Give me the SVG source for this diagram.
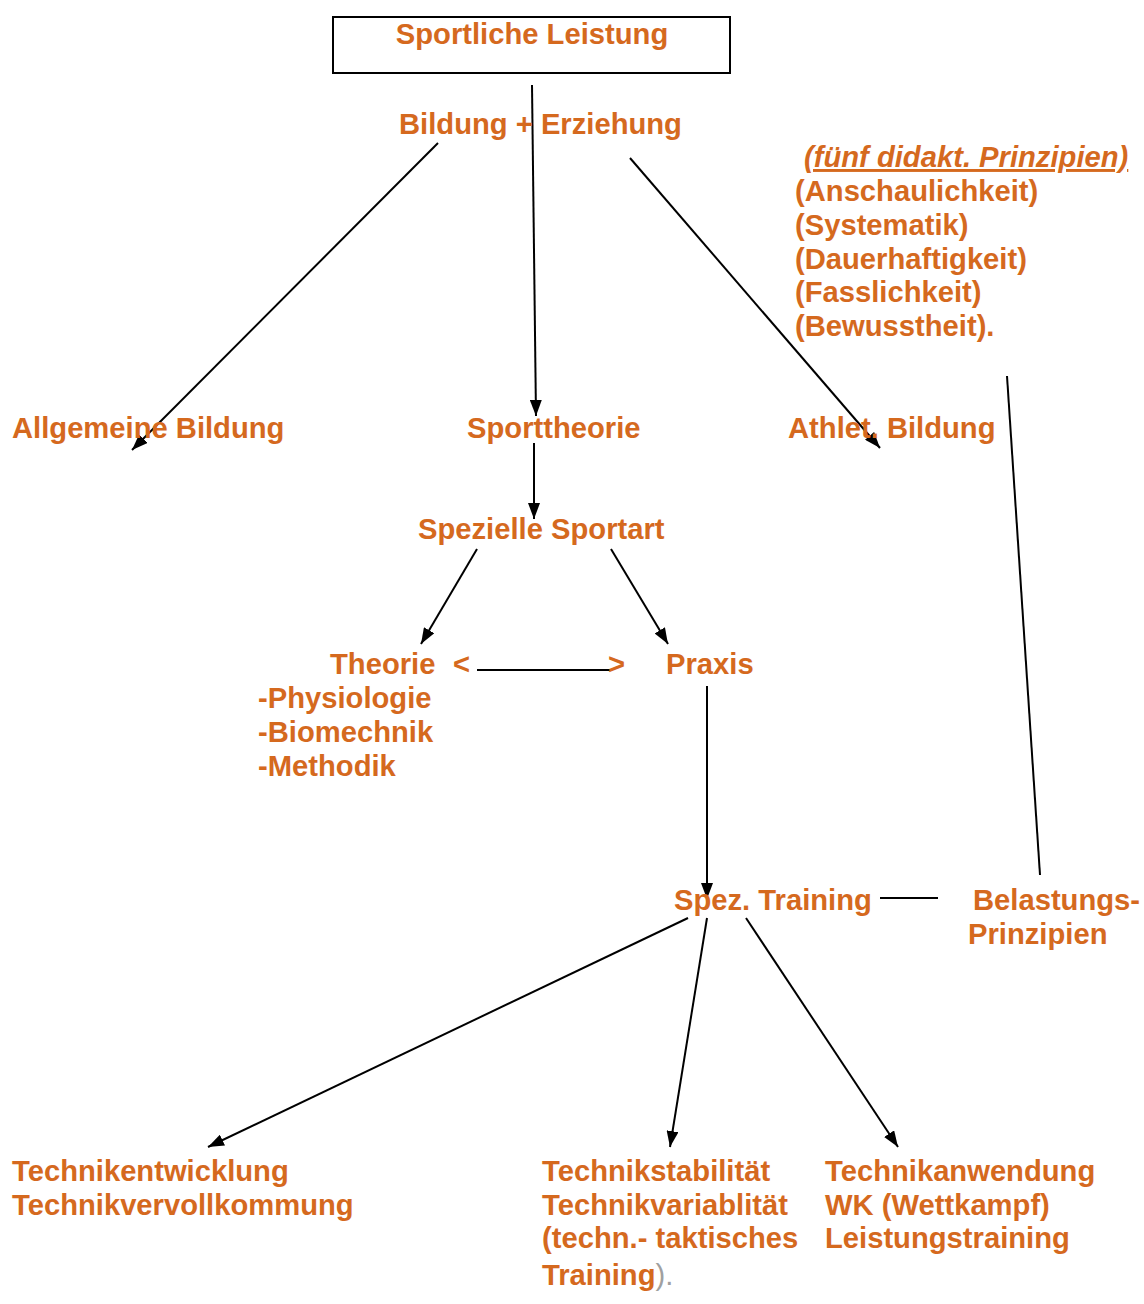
<svg xmlns="http://www.w3.org/2000/svg" width="1144" height="1304" viewBox="0 0 1144 1304">
<defs>
<style>
text{font-family:"Liberation Sans",Arial,sans-serif;font-weight:bold;font-size:29.2px;fill:#D5691E}
.gray{fill:#A0A0A0;font-weight:normal}
.ital{font-style:italic;text-decoration:underline}
.c line{stroke:#000;stroke-width:2}
</style>
<marker id="ah" viewBox="0 0 16 12" refX="16" refY="6" markerWidth="16" markerHeight="12" markerUnits="userSpaceOnUse" orient="auto">
<path d="M0,0 L16,6 L0,12 Z" fill="#000"/>
</marker>
</defs>
<rect width="1144" height="1304" fill="#fff"/>
<g class="c" id="connectors">
<line x1="532" y1="85" x2="536" y2="416" marker-end="url(#ah)"/>
<line x1="438" y1="143" x2="132" y2="450" marker-end="url(#ah)"/>
<line x1="630" y1="158" x2="880" y2="448" marker-end="url(#ah)"/>
<line x1="1007" y1="376" x2="1040" y2="875"/>
<line x1="534" y1="443" x2="534" y2="519" marker-end="url(#ah)"/>
<line x1="477" y1="549" x2="421" y2="644" marker-end="url(#ah)"/>
<line x1="611" y1="549" x2="668" y2="644" marker-end="url(#ah)"/>
<line x1="477" y1="670" x2="612" y2="670"/>
<line x1="707" y1="686" x2="707" y2="899" marker-end="url(#ah)"/>
<line x1="880" y1="898" x2="938" y2="898"/>
<line x1="688" y1="918" x2="208" y2="1147" marker-end="url(#ah)"/>
<line x1="707" y1="918" x2="670" y2="1147" marker-end="url(#ah)"/>
<line x1="746" y1="918" x2="898" y2="1147" marker-end="url(#ah)"/>
</g>
<g id="n-sportliche"><rect x="333" y="17" width="397" height="56" fill="none" stroke="#000" stroke-width="2"/><text x="532" y="44" text-anchor="middle">Sportliche Leistung</text></g>
<g id="n-bildung"><text x="399" y="134">Bildung + Erziehung</text></g>
<g id="n-prinzipien">
<text x="804" y="167" class="ital">(fünf didakt. Prinzipien)</text>
<text x="795" y="201">(Anschaulichkeit)</text>
<text x="795" y="235">(Systematik)</text>
<text x="795" y="269">(Dauerhaftigkeit)</text>
<text x="795" y="302">(Fasslichkeit)</text>
<text x="795" y="336">(Bewusstheit).</text>
</g>
<g id="n-allgemein"><text x="12" y="438">Allgemeine Bildung</text></g>
<g id="n-sporttheorie"><text x="467" y="438">Sporttheorie</text></g>
<g id="n-athlet"><text x="788" y="438">Athlet. Bildung</text></g>
<g id="n-spezielle"><text x="418" y="539">Spezielle Sportart</text></g>
<g id="n-theorie">
<text x="330" y="674">Theorie</text>
<text x="453" y="674">&lt;</text>
<text x="258" y="708">-Physiologie</text>
<text x="258" y="742">-Biomechnik</text>
<text x="258" y="776">-Methodik</text>
</g>
<g id="n-gt"><text x="608" y="674">&gt;</text></g>
<g id="n-praxis"><text x="666" y="674">Praxis</text></g>
<g id="n-spez"><text x="674" y="910">Spez. Training</text></g>
<g id="n-belastung"><text x="973" y="910">Belastungs-</text><text x="968" y="944">Prinzipien</text></g>
<g id="n-entw"><text x="12" y="1181">Technikentwicklung</text><text x="12" y="1215">Technikvervollkommung</text></g>
<g id="n-stab"><text x="542" y="1181">Technikstabilität</text><text x="542" y="1215">Technikvariablität</text><text x="542" y="1248">(techn.- taktisches</text><text x="542" y="1285">Training<tspan class="gray">).</tspan></text></g>
<g id="n-anw"><text x="825" y="1181">Technikanwendung</text><text x="825" y="1215">WK (Wettkampf)</text><text x="825" y="1248">Leistungstraining</text></g>
</svg>
